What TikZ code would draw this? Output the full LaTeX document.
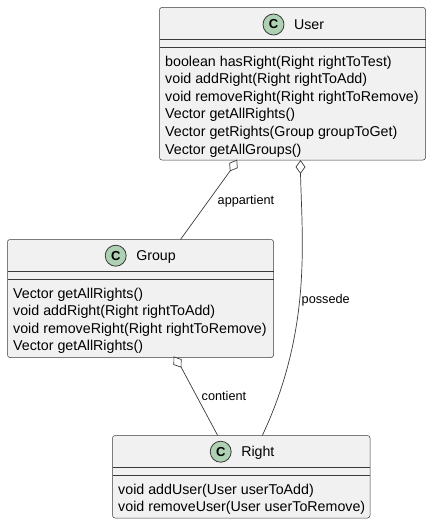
\documentclass[tikz,border=0pt]{standalone}
\usepackage{fontspec}
\setmainfont{Liberation Sans}
\usetikzlibrary{positioning}
\usetikzlibrary{calc}
\usetikzlibrary{shapes.geometric}
\definecolor{boxfill}{HTML}{F1F1F1}
\definecolor{boxline}{HTML}{3A3A3A}
\definecolor{spotfill}{HTML}{ADD1B2}
\tikzset{
    classbox/.style={draw=boxline, fill=boxfill, line width=0.5pt, rounded corners=2.5pt, inner sep=0pt, outer sep=0pt, anchor=north west},
    spot/.style={circle, draw=boxline, fill=spotfill, line width=0.8pt, minimum size=21pt, inner sep=0pt, font=\fontsize{13}{13}\selectfont\bfseries},
    classname/.style={inner sep=0pt, text height=13pt, text depth=3pt, font=\fontsize{14.2}{17}\selectfont},
    members/.style={inner sep=0pt, anchor=north west, align=left, font=\fontsize{14.25}{17.6}\selectfont},
    relname/.style={inner sep=0pt, text height=10pt, text depth=3pt, font=\fontsize{12.7}{14}\selectfont},
    hollow/.style={diamond, draw=boxline, fill=white, line width=0.7pt, minimum width=9pt, minimum height=12.5pt, inner sep=0pt, outer sep=0pt},
    link/.style={draw=boxline, line width=0.7pt},
}
\begin{document}
\begin{tikzpicture}[x=1pt, y=-1pt]
    \useasboundingbox (0,0) rectangle (431,524);

    \node[classbox, minimum width=266pt, minimum height=152.5pt] (user) at (159.5,7.5) {};
    \node[classbox, minimum width=266pt, minimum height=118pt] (group) at (7.5,239.5) {};
    \node[classbox, minimum width=257.5pt, minimum height=82.5pt] (rightcl) at (112.5,435.5) {};

    \foreach \b in {user,group,rightcl}{
        \draw[boxline, line width=0.5pt] ($(\b.north west)+(0,32)$) -- ($(\b.north east)+(0,32)$);
        \draw[boxline, line width=0.5pt] ($(\b.north west)+(0,40)$) -- ($(\b.north east)+(0,40)$);
    }

    \node[spot] (userc) at (273.5,24.5) {C};
    \node[classname, right=9.5pt of userc] (username) {User};
    \node[spot] (groupc) at (115.7,255.7) {C};
    \node[classname, right=9.5pt of groupc] (groupname) {Group};
    \node[spot] (rightc) at (220.7,451.7) {C};
    \node[classname, right=9.5pt of rightc] (rightname) {Right};

    \node[members] (usermem) at (165,55.5) {boolean hasRight(Right rightToTest)\\void addRight(Right rightToAdd)\\void removeRight(Right rightToRemove)\\Vector getAllRights()\\Vector getRights(Group groupToGet)\\Vector getAllGroups()};
    \node[members] (groupmem) at (13,287.5) {Vector getAllRights()\\void addRight(Right rightToAdd)\\void removeRight(Right rightToRemove)\\Vector getAllRights()};
    \node[members] (rightmem) at (118,483.5) {void addUser(User userToAdd)\\void removeUser(User userToRemove)};

    \node[hollow, rotate=-32] (d1) at (233.5,165.5) {};
    \node[hollow] (d2) at (300.5,167) {};
    \node[hollow, rotate=35] (d3) at (177.5,362) {};

    \coordinate (gtop) at (180.5,239.5);
    \coordinate (rtop1) at (217.7,435.5);
    \coordinate (rtop2) at (262.3,435.5);

    \draw[link] (d1.south) -- (gtop);
    \draw[link] (d2.south) .. controls (302,240) and (312,330) .. (rtop2);
    \draw[link] (d3.south) -- (rtop1);

    \node[relname, anchor=west] (appartient) at (217.5,200.5) {appartient};
    \node[relname, anchor=west] (possede) at (301.5,299.5) {possede};
    \node[relname, anchor=west] (contient) at (201.5,397) {contient};
\end{tikzpicture}
\end{document}
